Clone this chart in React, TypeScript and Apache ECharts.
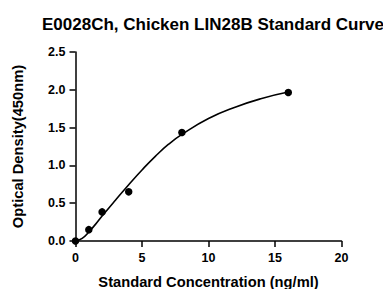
import React, { useEffect, useRef } from "react";
import * as echarts from "echarts";

const titleText = "E0028Ch, Chicken LIN28B Standard Curve";
const xAxisName = "Standard Concentration (ng/ml)";
const yAxisName = "Optical Density(450nm)";

const stdConc = [0, 1, 2, 4, 8, 16];
const stdOD = [0.0, 0.15, 0.385, 0.65, 1.435, 1.965];

const curveX = [0, 0.5, 1, 1.5, 2, 3, 4, 5, 6, 7, 8, 10, 12, 14, 16];
const curveY = [0, 0.035, 0.12, 0.22, 0.33, 0.54, 0.745, 0.94, 1.12, 1.28, 1.41, 1.62, 1.77, 1.885, 1.97];

const FONT = "Arial, 'Liberation Sans', sans-serif";

export default function App() {
  const ref = useRef<HTMLDivElement>(null);
  useEffect(() => {
    document.body.style.margin = "0";
    const chart = echarts.init(ref.current!, null, { renderer: "svg" });
    const axisCommon = {
      axisLine: { show: true, lineStyle: { color: "#000", width: 1.5 } },
      axisTick: { show: true, length: 6, lineStyle: { color: "#000", width: 1.5 } },
      splitLine: { show: false },
      nameTextStyle: { color: "#000", fontWeight: "bold", fontSize: 14.7, fontFamily: FONT },
    };
    chart.setOption({
      animation: false,
      backgroundColor: "#fff",
      title: {
        text: titleText,
        left: 208,
        top: 11,
        textAlign: "center",
        textStyle: { color: "#000", fontWeight: "bold", fontSize: 17, fontFamily: FONT },
      },
      grid: {
        left: 75.5,
        right: 41.5,
        top: 52,
        bottom: 48,
        containLabel: false,
        outerBoundsMode: "none",
      },
      xAxis: {
        type: "value",
        min: 0,
        max: 20,
        interval: 5,
        name: xAxisName,
        nameLocation: "middle",
        nameGap: 33,
        ...axisCommon,
        axisLabel: { color: "#000", fontWeight: "bold", fontSize: 12.5, fontFamily: FONT, margin: 10 },
      },
      yAxis: {
        type: "value",
        min: 0,
        max: 2.5,
        interval: 0.5,
        name: yAxisName,
        nameLocation: "middle",
        nameGap: 50,
        ...axisCommon,
        axisLabel: {
          color: "#000",
          fontWeight: "bold",
          fontSize: 12.5,
          fontFamily: FONT,
          margin: 10,
          formatter: (v: number) => v.toFixed(1),
        },
      },
      series: [
        {
          type: "line",
          data: curveX.map((x, i) => [x, curveY[i]]),
          smooth: true,
          showSymbol: false,
          lineStyle: { color: "#000", width: 1.6 },
          z: 2,
        },
        {
          type: "scatter",
          data: stdConc.map((x, i) => [x, stdOD[i]]),
          symbol: "circle",
          symbolSize: 7.5,
          itemStyle: { color: "#000", opacity: 1 },
          z: 3,
        },
      ],
    });
    return () => chart.dispose();
  }, []);
  return <div ref={ref} style={{ width: 383, height: 289 }} />;
}
